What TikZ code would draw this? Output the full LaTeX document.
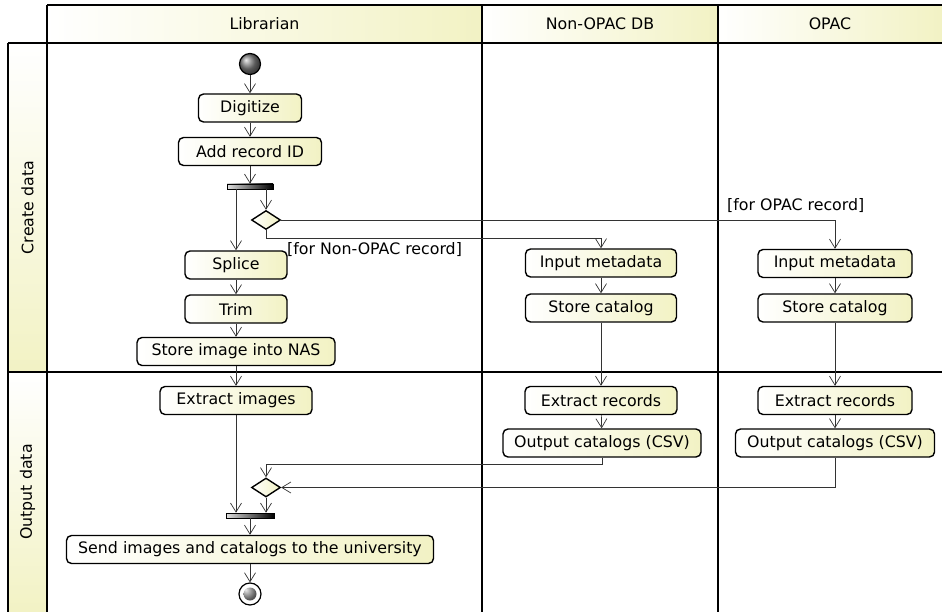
\documentclass[tikz,border=0pt]{standalone}
\usepackage{fontspec}
\setmainfont{DejaVu Sans}
\usepackage{xcolor}
\usepackage{tikz}
\usetikzlibrary{arrows.meta,shapes.geometric}
\definecolor{umlyellow}{RGB}{242,242,196}
\tikzset{
  action/.style={draw, line width=1.4pt, rounded corners=5pt,
    left color=white, right color=umlyellow,
    minimum height=28pt, inner sep=0pt},
  bar/.style={draw, line width=0.6pt, left color=gray!25, right color=black,
    minimum height=5pt, inner sep=0pt},
  decision/.style={diamond, draw, line width=1.4pt, left color=white,
    right color=umlyellow, minimum width=29pt, minimum height=19pt, inner sep=0pt},
  initial/.style={circle, draw, line width=1.2pt, ball color=gray,
    minimum size=21pt, inner sep=0pt},
  final/.style={circle, draw, line width=1.2pt, fill=white,
    minimum size=22pt, inner sep=0pt,
    path picture={\shade[ball color=gray]
      (path picture bounding box.center) circle (6.5pt);}},
  flow/.style={draw=black!80, line width=0.7pt,
    -{Straight Barb[length=9pt,width=11pt]}},
  guard/.style={inner sep=0pt},
  lane/.style={line width=1.7pt}
}

\begin{document}
\begin{tikzpicture}[x=1pt,y=-1pt,font=\fontsize{15.8}{19}\selectfont]
  \useasboundingbox (0,0) rectangle (942,612);
  % swimlanes
  \shade[left color=white, right color=umlyellow] (47,5) rectangle (482,43);
  \shade[left color=white, right color=umlyellow] (482,5) rectangle (718,43);
  \shade[left color=white, right color=umlyellow] (718,5) rectangle (942,43);
  \shade[top color=white, bottom color=umlyellow] (8,43) rectangle (47,372);
  \shade[top color=white, bottom color=umlyellow] (8,372) rectangle (47,612);
  \draw[lane] (47,5) -- (942,5);
  \draw[lane] (8,43) -- (942,43);
  \draw[lane] (8,372) -- (942,372);
  \draw[lane] (8,43) -- (8,612);
  \draw[lane] (47,5) -- (47,612);
  \draw[lane] (482,5) -- (482,612);
  \draw[lane] (718,5) -- (718,612);
  \node (hlib) at (264.5,24) {Librarian};
  \node (hnon) at (600,24) {Non-OPAC DB};
  \node (hopac) at (830,24) {OPAC};
  \node[rotate=90] (lcreate) at (27.5,207.5) {Create data};
  \node[rotate=90] (loutput) at (27.5,492) {Output data};

  % Librarian
  \node (start) [initial] at (250,64) {};
  \node (digitize) [action, minimum width=103pt] at (250,108) {Digitize};
  \node (addid) [action, minimum width=143pt] at (250,151.5) {Add record ID};
  \node (fork) [bar, minimum width=46pt] at (250,186.5) {};
  \node (dec1) [decision] at (266,220) {};
  \node (splice) [action, minimum width=102pt] at (236,265) {Splice};
  \node (trim) [action, minimum width=102pt] at (236,309) {Trim};
  \node (nas) [action, minimum width=198pt] at (236,351.5) {Store image into NAS};
  \node (extimg) [action, minimum width=152pt] at (236,400.5) {Extract images};
  \node (dec2) [decision] at (266,487.5) {};
  \node (join) [bar, minimum width=48pt] at (250,515.5) {};
  \node (send) [action, minimum width=367pt] at (250,549.5) {Send images and catalogs to the university};
  \node (end) [final] at (250,594) {};

  % Non-OPAC DB
  \node (noninput) [action, minimum width=151pt] at (601,263) {Input metadata};
  \node (nonstore) [action, minimum width=151pt] at (601,308) {Store catalog};
  \node (nonext) [action, minimum width=152pt] at (601,400.5) {Extract records};
  \node (nonout) [action, minimum width=198pt] at (602,443) {Output catalogs (CSV)};

  % OPAC
  \node (opacinput) [action, minimum width=154pt] at (835,263.5) {Input metadata};
  \node (opacstore) [action, minimum width=154pt] at (835,308) {Store catalog};
  \node (opacext) [action, minimum width=154pt] at (835,400.5) {Extract records};
  \node (opacout) [action, minimum width=199pt] at (835,443) {Output catalogs (CSV)};

  \node (gnon) [guard, anchor=west] at (287,250) {[for Non-OPAC record]};
  \node (gopac) [guard, anchor=west] at (727,206) {[for OPAC record]};

  % flows
  \draw[flow] (start) -- (digitize);
  \draw[flow] (digitize) -- (addid);
  \draw[flow] (addid) -- (fork);
  \draw[flow] (fork.south -| splice) -- (splice);
  \draw[flow] (fork.south -| dec1) -- (dec1);
  \draw[flow] (dec1) -| (opacinput);
  \draw[flow] (dec1.south) -- ++(0,8) -| (noninput);
  \draw[flow] (splice) -- (trim);
  \draw[flow] (trim) -- (nas);
  \draw[flow] (nas) -- (extimg);
  \draw[flow] (extimg) -- (extimg |- join.north);
  \draw[flow] (noninput) -- (nonstore);
  \draw[flow] (nonstore) -- (nonext);
  \draw[flow] (nonext) -- (nonout);
  \draw[flow] (opacinput) -- (opacstore);
  \draw[flow] (opacstore) -- (opacext);
  \draw[flow] (opacext) -- (opacout);
  \draw[flow] (nonout.south) -- ++(0,7) -| (dec2);
  \draw[flow] (opacout.south) |- (dec2);
  \draw[flow] (dec2) -- (dec2 |- join.north);
  \draw[flow] (join.south -| send) -- (send);
  \draw[flow] (send) -- (end);
\end{tikzpicture}
\end{document}
